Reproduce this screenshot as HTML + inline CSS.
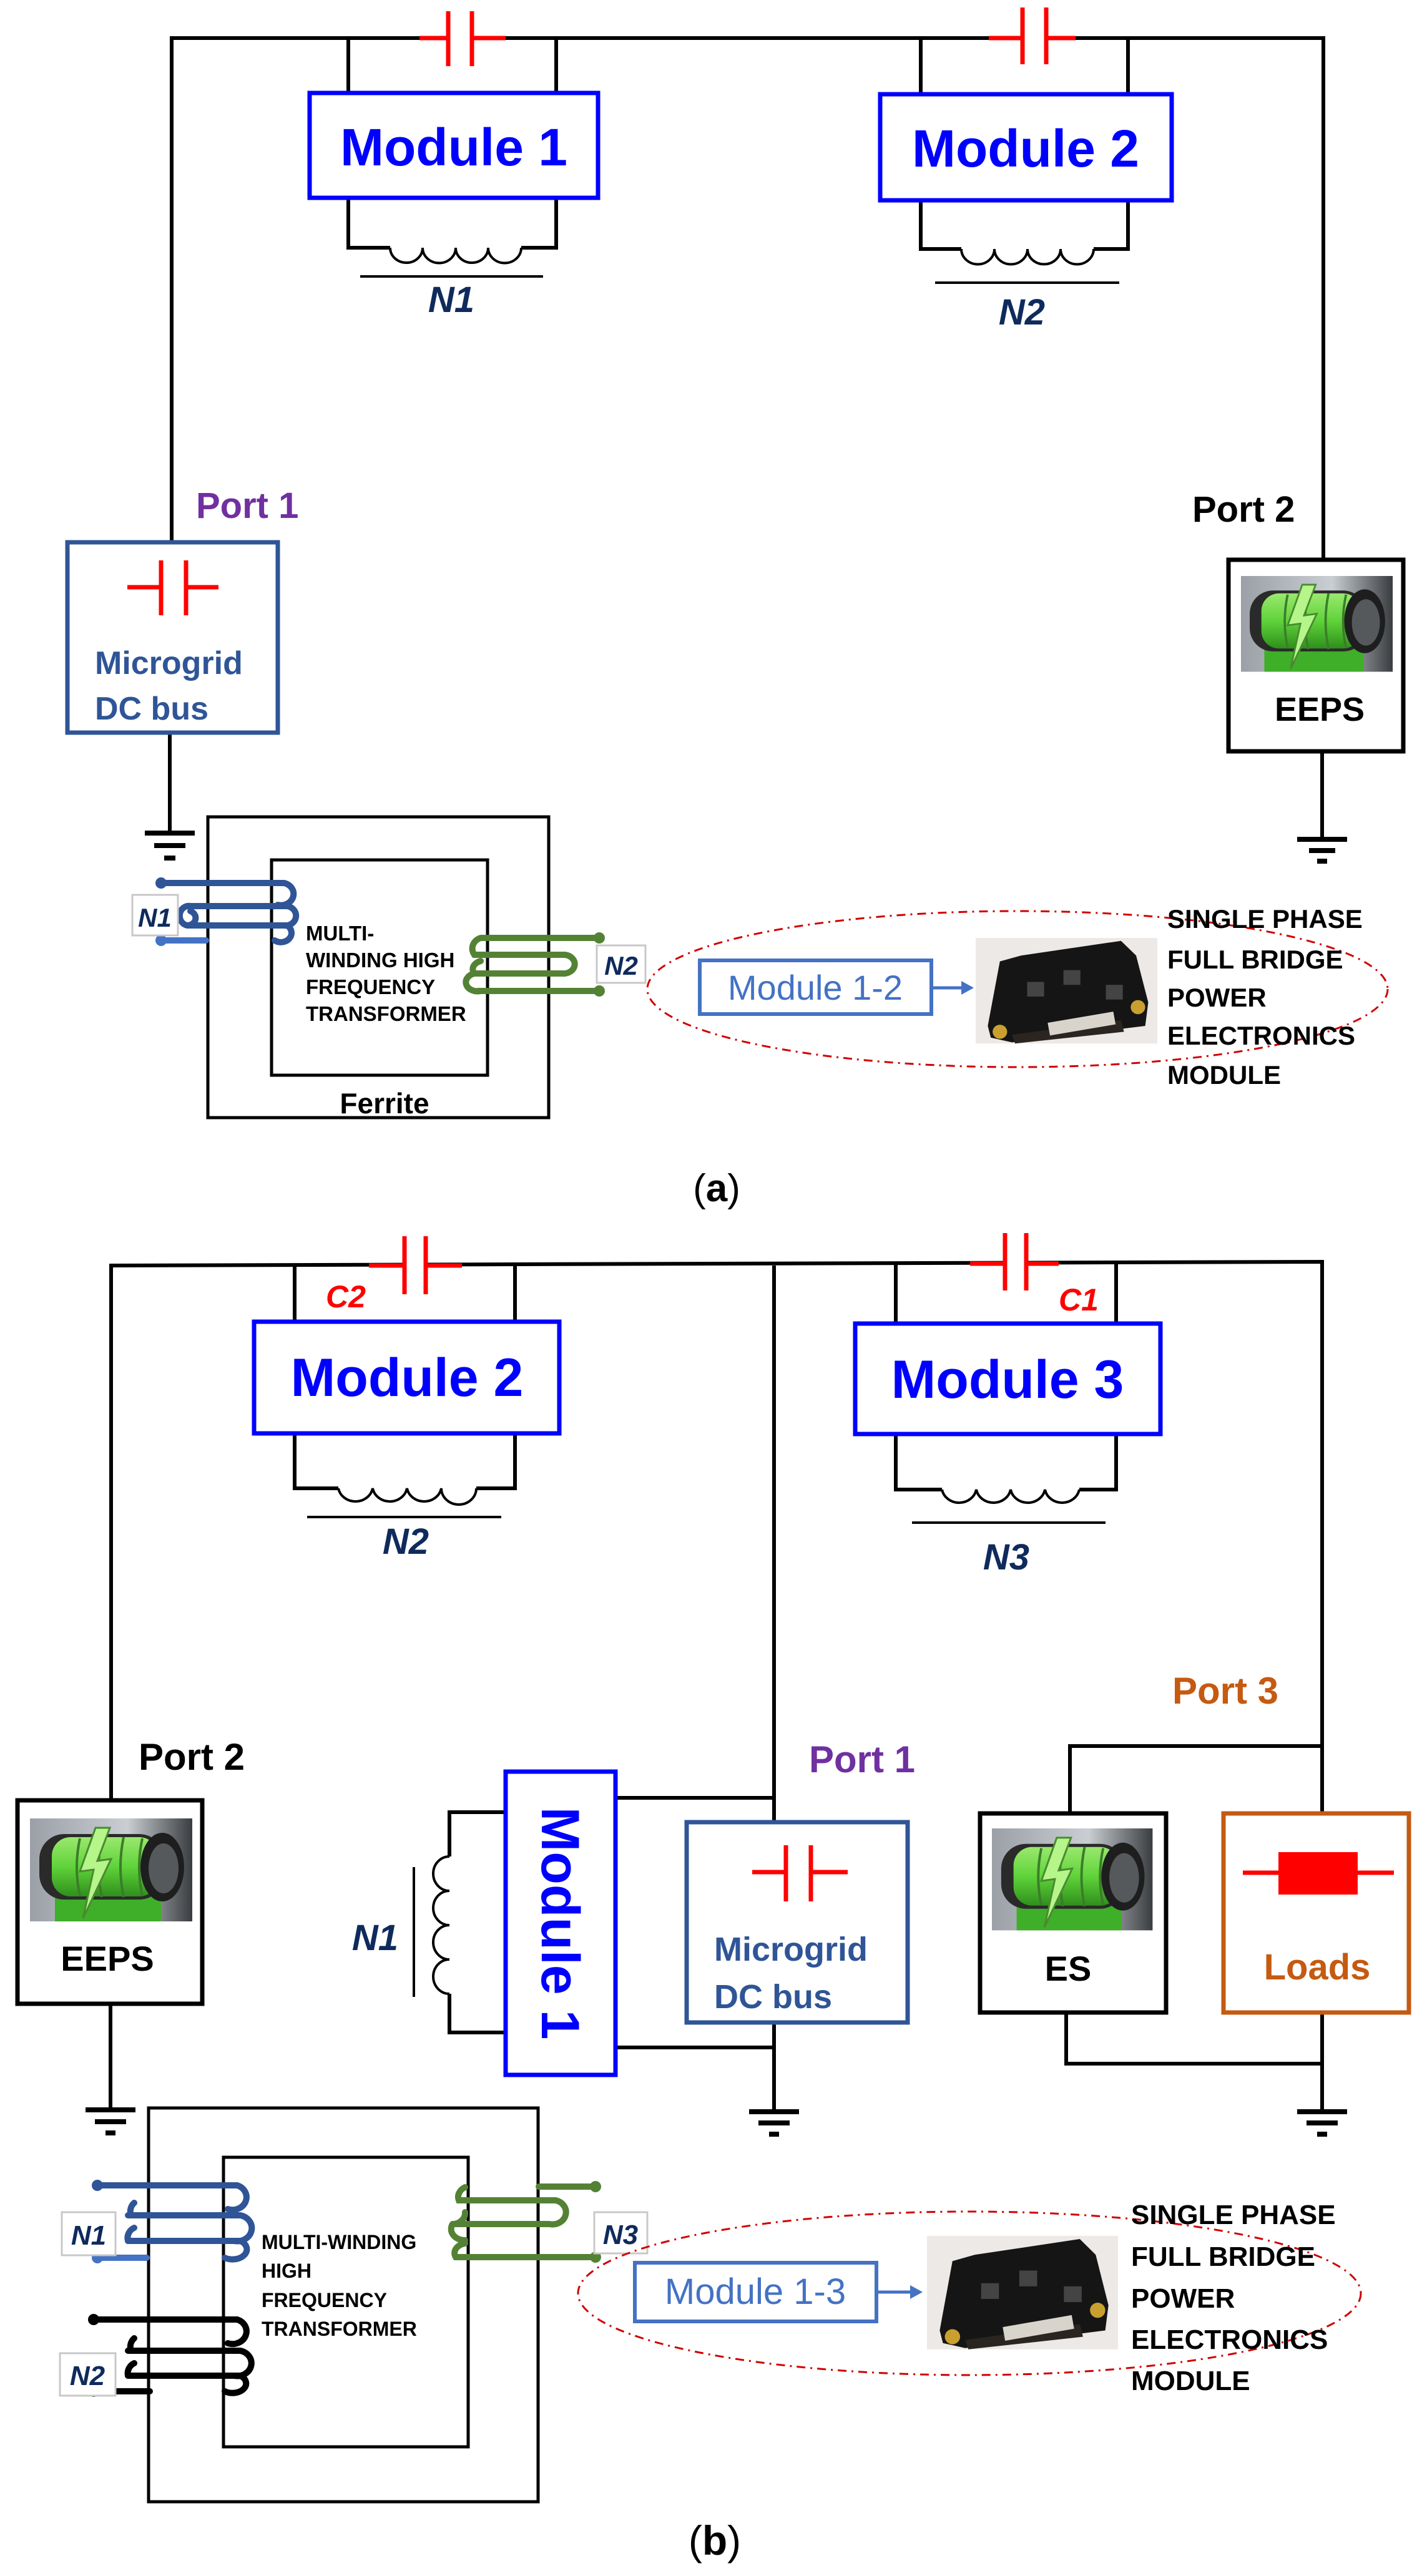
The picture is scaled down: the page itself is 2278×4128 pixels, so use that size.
<!DOCTYPE html>
<html><head><meta charset="utf-8"><style>
html,body{margin:0;padding:0;background:#fff}
svg{display:block}
text{font-family:"Liberation Sans",sans-serif}
</style></head><body>
<svg width="2278" height="4128" viewBox="0 0 2278 4128" xmlns="http://www.w3.org/2000/svg">
<defs>
<linearGradient id="bg" x1="0" x2="1" y1="0" y2="0"><stop offset="0" stop-color="#9aa0a6"/><stop offset="0.6" stop-color="#c9ced3"/><stop offset="1" stop-color="#3a3d40"/></linearGradient>
<linearGradient id="gr" x1="0" x2="0" y1="0" y2="1"><stop offset="0" stop-color="#9be86e"/><stop offset="0.5" stop-color="#5fd33a"/><stop offset="1" stop-color="#2f8f1c"/></linearGradient>
<g id="batt">
<rect x="0" y="0" width="260" height="165" fill="url(#bg)"/>
<rect x="40" y="120" width="170" height="45" fill="#3fae28"/>
<rect x="15" y="25" width="200" height="105" rx="40" fill="#2a2a2a"/>
<rect x="35" y="30" width="170" height="95" rx="30" fill="url(#gr)"/>
<path d="M80 32 Q70 78 80 124 M115 30 Q105 78 115 126 M150 30 Q140 78 150 126 M180 32 Q170 78 180 124" stroke="#3b7d2a" stroke-width="4" fill="none"/>
<ellipse cx="212" cy="78" rx="35" ry="55" fill="#1e1e1e"/>
<ellipse cx="214" cy="80" rx="24" ry="40" fill="#55595c"/>
<polygon points="105,15 80,85 102,82 85,160 130,65 108,68 128,15" fill="#b6f58a" stroke="#4a8a30" stroke-width="3"/>
</g>
<g id="igbt">
<rect x="0" y="0" width="300" height="180" fill="#ece9e6"/>
<polygon points="20,150 40,40 75,30 240,5 265,30 285,110 280,150 60,178 25,170" fill="#151515"/>
<polygon points="60,165 240,140 245,160 65,180" fill="#2a2520"/>
<rect x="120" y="135" width="110" height="22" fill="#d8d4cc" transform="rotate(-10 175 146)"/>
<rect x="85" y="75" width="28" height="25" fill="#444"/><rect x="145" y="55" width="28" height="25" fill="#444"/><rect x="215" y="80" width="28" height="25" fill="#444"/>
<circle cx="40" cy="160" r="12" fill="#c9a030"/><circle cx="268" cy="118" r="12" fill="#c9a030"/>
</g>
</defs>

<!-- ============ (a) ============ -->
<g stroke="#000" stroke-width="6" fill="none">
<polyline points="275,869 275,61 2120,61 2120,897"/>
<line x1="558" y1="61" x2="558" y2="149"/><line x1="891" y1="61" x2="891" y2="149"/>
<polyline points="558,317 558,397 625,397"/><polyline points="835,397 891,397 891,317"/>
<line x1="1475" y1="61" x2="1475" y2="151"/><line x1="1807" y1="61" x2="1807" y2="151"/>
<polyline points="1475,321 1475,399 1540,399"/><polyline points="1752,399 1807,399 1807,321"/>
<line x1="272" y1="1174" x2="272" y2="1335"/>
<line x1="2118" y1="1204" x2="2118" y2="1345"/>
</g>
<g stroke="#000" stroke-width="4" fill="none">
<path d="M625 397 a26 24 0 0 0 52 0 a26 24 0 0 0 53 0 a26 24 0 0 0 52 0 a26 24 0 0 0 53 0"/>
<path d="M1540 399 a26 24 0 0 0 53 0 a26 24 0 0 0 53 0 a26 24 0 0 0 53 0 a26 24 0 0 0 53 0"/>
<line x1="577" y1="443" x2="870" y2="443"/><line x1="1498" y1="453" x2="1793" y2="453"/>
</g>
<!-- caps a -->
<rect x="718" y="50" width="38" height="22" fill="#fff"/>
<rect x="1638" y="50" width="38" height="22" fill="#fff"/>
<g stroke="#f00" stroke-width="7">
<line x1="672" y1="61" x2="718" y2="61"/><line x1="756" y1="61" x2="810" y2="61"/>
<line x1="718" y1="18" x2="718" y2="106"/><line x1="756" y1="18" x2="756" y2="106"/>
<line x1="1584" y1="61" x2="1638" y2="61"/><line x1="1676" y1="61" x2="1723" y2="61"/>
<line x1="1638" y1="12" x2="1638" y2="103"/><line x1="1676" y1="12" x2="1676" y2="103"/>
</g>
<rect x="496" y="149" width="462" height="168" fill="#fff" stroke="#0000ff" stroke-width="7"/>
<rect x="1410" y="151" width="467" height="170" fill="#fff" stroke="#0000ff" stroke-width="7"/>
<text x="727" y="265" font-size="84" font-weight="bold" fill="#0000ff" text-anchor="middle">Module 1</text>
<text x="1643" y="267" font-size="84" font-weight="bold" fill="#0000ff" text-anchor="middle">Module 2</text>
<text x="723" y="500" font-size="58" font-weight="bold" font-style="italic" fill="#0f2a5c" text-anchor="middle">N1</text>
<text x="1637" y="520" font-size="58" font-weight="bold" font-style="italic" fill="#0f2a5c" text-anchor="middle">N2</text>
<text x="314" y="830" font-size="58" font-weight="bold" fill="#7030a0">Port 1</text>
<text x="1910" y="836" font-size="58" font-weight="bold" fill="#000">Port 2</text>
<!-- microgrid a -->
<rect x="108" y="869" width="337" height="305" fill="#fff" stroke="#2f5597" stroke-width="7"/>
<g stroke="#f00" stroke-width="7"><line x1="204" y1="941" x2="258" y2="941"/><line x1="298" y1="941" x2="350" y2="941"/><line x1="258" y1="898" x2="258" y2="986"/><line x1="298" y1="898" x2="298" y2="986"/></g>
<text x="152" y="1080" font-size="52" font-weight="bold" fill="#2f5597">Microgrid</text>
<text x="152" y="1153" font-size="52" font-weight="bold" fill="#2f5597">DC bus</text>
<!-- EEPS a -->
<rect x="1968" y="897" width="280" height="307" fill="#fff" stroke="#000" stroke-width="7"/>
<use href="#batt" transform="translate(1988,923) scale(0.935,0.93)"/>
<text x="2114" y="1155" font-size="54" font-weight="bold" fill="#000" text-anchor="middle">EEPS</text>
<!-- grounds a -->
<g stroke="#000" stroke-width="8">
<line x1="232" y1="1335" x2="312" y2="1335"/><line x1="247" y1="1355" x2="297" y2="1355"/><line x1="263" y1="1375" x2="281" y2="1375"/>
<line x1="2078" y1="1345" x2="2158" y2="1345"/><line x1="2097" y1="1363" x2="2139" y2="1363"/><line x1="2110" y1="1380" x2="2126" y2="1380"/>
</g>
<!-- transformer a -->
<rect x="333" y="1309" width="546" height="482" fill="none" stroke="#000" stroke-width="5"/>
<rect x="435" y="1378" width="346" height="345" fill="none" stroke="#000" stroke-width="5"/>
<g font-size="33" font-weight="bold" fill="#000"><text x="490" y="1507">MULTI-</text><text x="490" y="1550">WINDING HIGH</text><text x="490" y="1593">FREQUENCY</text><text x="490" y="1636">TRANSFORMER</text></g>
<text x="616" y="1784" font-size="46" font-weight="bold" fill="#000" text-anchor="middle">Ferrite</text>
<g stroke="#2f5597" stroke-width="10" fill="none" stroke-linecap="round">
<path d="M258 1415 H455 A18 16 0 0 1 445 1450 M300 1452 H460 A16 15 0 0 1 455 1483 M300 1483 H460 A16 14 0 0 1 440 1507"/>
<path d="M305 1452 A14 15 0 0 0 300 1483 A14 12 0 0 0 305 1460"/>
<path d="M258 1507 H330" stroke="#4472c4"/>
</g>
<circle cx="258" cy="1415" r="9" fill="#2f5597"/><circle cx="258" cy="1507" r="9" fill="#4472c4"/>
<rect x="212" y="1434" width="73" height="65" fill="#fff" stroke="#c8c8c8" stroke-width="3"/>
<text x="248" y="1485" font-size="42" font-weight="bold" font-style="italic" fill="#0f2a5c" text-anchor="middle">N1</text>
<g stroke="#548235" stroke-width="10" fill="none" stroke-linecap="round">
<path d="M960 1503 H770 M770 1503 A20 18 0 0 0 760 1530 H905 A18 15 0 0 1 900 1560 H760 A18 14 0 0 0 770 1588"/>
<path d="M760 1560 A20 14 0 0 1 770 1540 M765 1588 H960"/>
</g>
<circle cx="960" cy="1503" r="9" fill="#548235"/><circle cx="960" cy="1588" r="9" fill="#548235"/>
<rect x="956" y="1515" width="78" height="60" fill="#fff" stroke="#c8c8c8" stroke-width="3"/>
<text x="995" y="1562" font-size="42" font-weight="bold" font-style="italic" fill="#0f2a5c" text-anchor="middle">N2</text>
<ellipse cx="1630" cy="1585" rx="593" ry="125" fill="none" stroke="#d00000" stroke-width="3" stroke-dasharray="14,8,3,8"/>
<rect x="1121" y="1539" width="371" height="86" fill="#fff" stroke="#4472c4" stroke-width="6"/>
<text x="1306" y="1602" font-size="56" fill="#4472c4" text-anchor="middle">Module 1-2</text>
<line x1="1492" y1="1583" x2="1545" y2="1583" stroke="#4472c4" stroke-width="5"/>
<polygon points="1540,1572 1560,1583 1540,1594" fill="#4472c4"/>
<use href="#igbt" transform="translate(1563,1503) scale(0.97,0.94)"/>
<g font-size="42" font-weight="bold" fill="#000"><text x="1870" y="1487">SINGLE PHASE</text><text x="1870" y="1552">FULL BRIDGE</text><text x="1870" y="1613">POWER</text><text x="1870" y="1674">ELECTRONICS</text><text x="1870" y="1737">MODULE</text></g>
<text x="1148" y="1925" font-size="62" fill="#000" text-anchor="middle" font-family="Liberation Serif, serif">(<tspan font-weight="bold">a</tspan>)</text>

<!-- ============ (b) ============ -->
<g stroke="#000" stroke-width="6" fill="none">
<polyline points="178,2885 178,2028 2118,2022 2118,2908"/>
<line x1="472" y1="2028" x2="472" y2="2118"/><line x1="825" y1="2028" x2="825" y2="2118"/>
<polyline points="472,2297 472,2385 542,2385"/><polyline points="763,2385 825,2385 825,2297"/>
<line x1="1435" y1="2025" x2="1435" y2="2121"/><line x1="1788" y1="2025" x2="1788" y2="2121"/>
<polyline points="1435,2298 1435,2387 1509,2387"/><polyline points="1729,2387 1788,2387 1788,2298"/>
<line x1="1240" y1="2028" x2="1240" y2="2920"/>
<line x1="985" y1="2881" x2="1240" y2="2881"/>
<line x1="985" y1="3281" x2="1240" y2="3281"/>
<line x1="1240" y1="3241" x2="1240" y2="3381"/>
<polyline points="810,2904 720,2904 720,2975"/><polyline points="720,3195 720,3257 810,3257"/>
<line x1="177" y1="3211" x2="177" y2="3378"/>
<polyline points="1714,2906 1714,2798 2118,2798"/>
<polyline points="1708,3225 1708,3307 2118,3307"/>
<line x1="2118" y1="3225" x2="2118" y2="3381"/>
</g>
<g stroke="#000" stroke-width="4" fill="none">
<path d="M542 2385 a28 26 0 0 0 55 0 a28 26 0 0 0 55 0 a28 26 0 0 0 55 0 a28 26 0 0 0 56 0"/>
<path d="M1509 2387 a28 26 0 0 0 55 0 a28 26 0 0 0 55 0 a28 26 0 0 0 55 0 a28 26 0 0 0 55 0"/>
<path d="M720 2975 a26 27.5 0 0 0 0 55 a26 27.5 0 0 0 0 55 a26 27.5 0 0 0 0 55 a26 27.5 0 0 0 0 55"/>
<line x1="492" y1="2431" x2="803" y2="2431"/><line x1="1461" y1="2440" x2="1771" y2="2440"/>
<line x1="663" y1="2992" x2="663" y2="3200"/>
</g>
<rect x="648" y="2017" width="34" height="22" fill="#fff"/>
<rect x="1610" y="2014" width="34" height="22" fill="#fff"/>
<g stroke="#f00" stroke-width="7">
<line x1="591" y1="2028" x2="648" y2="2028"/><line x1="682" y1="2028" x2="740" y2="2028"/>
<line x1="648" y1="1981" x2="648" y2="2074"/><line x1="682" y1="1981" x2="682" y2="2074"/>
<line x1="1554" y1="2025" x2="1610" y2="2025"/><line x1="1644" y1="2025" x2="1696" y2="2025"/>
<line x1="1610" y1="1976" x2="1610" y2="2068"/><line x1="1644" y1="1976" x2="1644" y2="2068"/>
</g>
<text x="522" y="2095" font-size="50" font-weight="bold" font-style="italic" fill="#f00">C2</text>
<text x="1696" y="2100" font-size="50" font-weight="bold" font-style="italic" fill="#f00">C1</text>
<rect x="407" y="2118" width="489" height="179" fill="#fff" stroke="#0000ff" stroke-width="7"/>
<rect x="1370" y="2121" width="489" height="177" fill="#fff" stroke="#0000ff" stroke-width="7"/>
<text x="652" y="2237" font-size="86" font-weight="bold" fill="#0000ff" text-anchor="middle">Module 2</text>
<text x="1614" y="2240" font-size="86" font-weight="bold" fill="#0000ff" text-anchor="middle">Module 3</text>
<text x="650" y="2490" font-size="58" font-weight="bold" font-style="italic" fill="#0f2a5c" text-anchor="middle">N2</text>
<text x="1612" y="2515" font-size="58" font-weight="bold" font-style="italic" fill="#0f2a5c" text-anchor="middle">N3</text>
<text x="601" y="3125" font-size="58" font-weight="bold" font-style="italic" fill="#0f2a5c" text-anchor="middle">N1</text>
<text x="222" y="2836" font-size="60" font-weight="bold" fill="#000">Port 2</text>
<text x="1296" y="2840" font-size="60" font-weight="bold" fill="#7030a0">Port 1</text>
<text x="1878" y="2730" font-size="60" font-weight="bold" fill="#c55a11">Port 3</text>
<!-- Module 1 vertical -->
<rect x="810" y="2839" width="176" height="486" fill="#fff" stroke="#0000ff" stroke-width="7"/>
<text transform="translate(868,3082) rotate(90)" font-size="86" font-weight="bold" fill="#0000ff" text-anchor="middle">Module 1</text>
<!-- microgrid b -->
<rect x="1100" y="2920" width="354" height="321" fill="#fff" stroke="#2f5597" stroke-width="7"/>
<g stroke="#f00" stroke-width="7"><line x1="1205" y1="3000" x2="1259" y2="3000"/><line x1="1299" y1="3000" x2="1358" y2="3000"/><line x1="1259" y1="2957" x2="1259" y2="3047"/><line x1="1299" y1="2957" x2="1299" y2="3047"/></g>
<text x="1144" y="3142" font-size="54" font-weight="bold" fill="#2f5597">Microgrid</text>
<text x="1144" y="3218" font-size="54" font-weight="bold" fill="#2f5597">DC bus</text>
<!-- EEPS b -->
<rect x="28" y="2885" width="296" height="326" fill="#fff" stroke="#000" stroke-width="7"/>
<use href="#batt" transform="translate(48,2914) scale(1,1)"/>
<text x="172" y="3158" font-size="56" font-weight="bold" fill="#000" text-anchor="middle">EEPS</text>
<!-- ES -->
<rect x="1570" y="2906" width="298" height="319" fill="#fff" stroke="#000" stroke-width="7"/>
<use href="#batt" transform="translate(1589,2930) scale(0.99,0.99)"/>
<text x="1711" y="3174" font-size="56" font-weight="bold" fill="#000" text-anchor="middle">ES</text>
<!-- Loads -->
<rect x="1960" y="2906" width="297" height="319" fill="#fff" stroke="#c55a11" stroke-width="7"/>
<line x1="1991" y1="3001" x2="2233" y2="3001" stroke="#f00" stroke-width="7"/>
<rect x="2048" y="2968" width="127" height="68" fill="#f00"/>
<text x="2110" y="3172" font-size="58" font-weight="bold" fill="#c55a11" text-anchor="middle">Loads</text>
<!-- grounds b -->
<g stroke="#000" stroke-width="8">
<line x1="137" y1="3381" x2="217" y2="3381"/><line x1="152" y1="3400" x2="202" y2="3400"/><line x1="169" y1="3418" x2="185" y2="3418"/>
<line x1="1200" y1="3384" x2="1280" y2="3384"/><line x1="1215" y1="3402" x2="1265" y2="3402"/><line x1="1232" y1="3420" x2="1248" y2="3420"/>
<line x1="2078" y1="3384" x2="2158" y2="3384"/><line x1="2093" y1="3402" x2="2143" y2="3402"/><line x1="2110" y1="3420" x2="2126" y2="3420"/>
</g>
<!-- transformer b -->
<rect x="238" y="3378" width="624" height="631" fill="none" stroke="#000" stroke-width="5"/>
<rect x="358" y="3457" width="392" height="464" fill="none" stroke="#000" stroke-width="5"/>
<g font-size="32" font-weight="bold" fill="#000"><text x="419" y="3604">MULTI-WINDING</text><text x="419" y="3650">HIGH</text><text x="419" y="3697">FREQUENCY</text><text x="419" y="3743">TRANSFORMER</text></g>
<g stroke="#2f5597" stroke-width="10" fill="none" stroke-linecap="round">
<path d="M156 3502 H380 A20 18 0 0 1 365 3540 M205 3550 H385 A20 18 0 0 1 375 3591 M205 3591 H385 A20 14 0 0 1 360 3618"/>
<path d="M210 3550 A18 18 0 0 1 215 3530 M205 3591 A18 18 0 0 1 215 3570"/>
<path d="M156 3618 H235" stroke="#4472c4"/>
</g>
<circle cx="156" cy="3502" r="9" fill="#2f5597"/><circle cx="156" cy="3618" r="9" fill="#4472c4"/>
<g stroke="#000" stroke-width="10" fill="none" stroke-linecap="round">
<path d="M150 3717 H380 A20 18 0 0 1 365 3755 M205 3767 H385 A20 18 0 0 1 375 3807 M205 3807 H385 A20 14 0 0 1 360 3832"/>
<path d="M210 3767 A18 18 0 0 1 215 3747 M205 3807 A18 18 0 0 1 215 3787"/>
<path d="M150 3832 H240"/>
</g>
<circle cx="150" cy="3717" r="9" fill="#000"/><circle cx="150" cy="3832" r="9" fill="#000"/>
<g stroke="#548235" stroke-width="10" fill="none" stroke-linecap="round">
<path d="M954 3504 H863 M745 3505 A22 18 0 0 0 735 3526 H890 A20 18 0 0 1 880 3564 H725 A20 18 0 0 0 745 3545"/>
<path d="M725 3564 A22 18 0 0 0 745 3590 M745 3595 A22 16 0 0 0 730 3617 H954"/>
</g>
<circle cx="954" cy="3504" r="9" fill="#548235"/><circle cx="954" cy="3617" r="9" fill="#548235"/>
<rect x="99" y="3545" width="86" height="69" fill="#fff" stroke="#c8c8c8" stroke-width="3"/>
<text x="142" y="3597" font-size="44" font-weight="bold" font-style="italic" fill="#0f2a5c" text-anchor="middle">N1</text>
<rect x="96" y="3771" width="89" height="68" fill="#fff" stroke="#c8c8c8" stroke-width="3"/>
<text x="140" y="3822" font-size="44" font-weight="bold" font-style="italic" fill="#0f2a5c" text-anchor="middle">N2</text>
<rect x="952" y="3545" width="85" height="66" fill="#fff" stroke="#c8c8c8" stroke-width="3"/>
<text x="994" y="3596" font-size="44" font-weight="bold" font-style="italic" fill="#0f2a5c" text-anchor="middle">N3</text>
<ellipse cx="1553" cy="3675" rx="627" ry="131" fill="none" stroke="#d00000" stroke-width="3" stroke-dasharray="14,8,3,8"/>
<rect x="1017" y="3626" width="387" height="94" fill="#fff" stroke="#4472c4" stroke-width="6"/>
<text x="1210" y="3692" font-size="58" fill="#4472c4" text-anchor="middle">Module 1-3</text>
<line x1="1404" y1="3673" x2="1462" y2="3673" stroke="#4472c4" stroke-width="5"/>
<polygon points="1458,3662 1478,3673 1458,3684" fill="#4472c4"/>
<use href="#igbt" transform="translate(1485,3583) scale(1.02,1.01)"/>
<g font-size="44" font-weight="bold" fill="#000"><text x="1812" y="3564">SINGLE PHASE</text><text x="1812" y="3631">FULL BRIDGE</text><text x="1812" y="3698">POWER</text><text x="1812" y="3764">ELECTRONICS</text><text x="1812" y="3830">MODULE</text></g>
<text x="1145" y="4094" font-size="66" fill="#000" text-anchor="middle" font-family="Liberation Serif, serif">(<tspan font-weight="bold">b</tspan>)</text>
</svg>
</body></html>
